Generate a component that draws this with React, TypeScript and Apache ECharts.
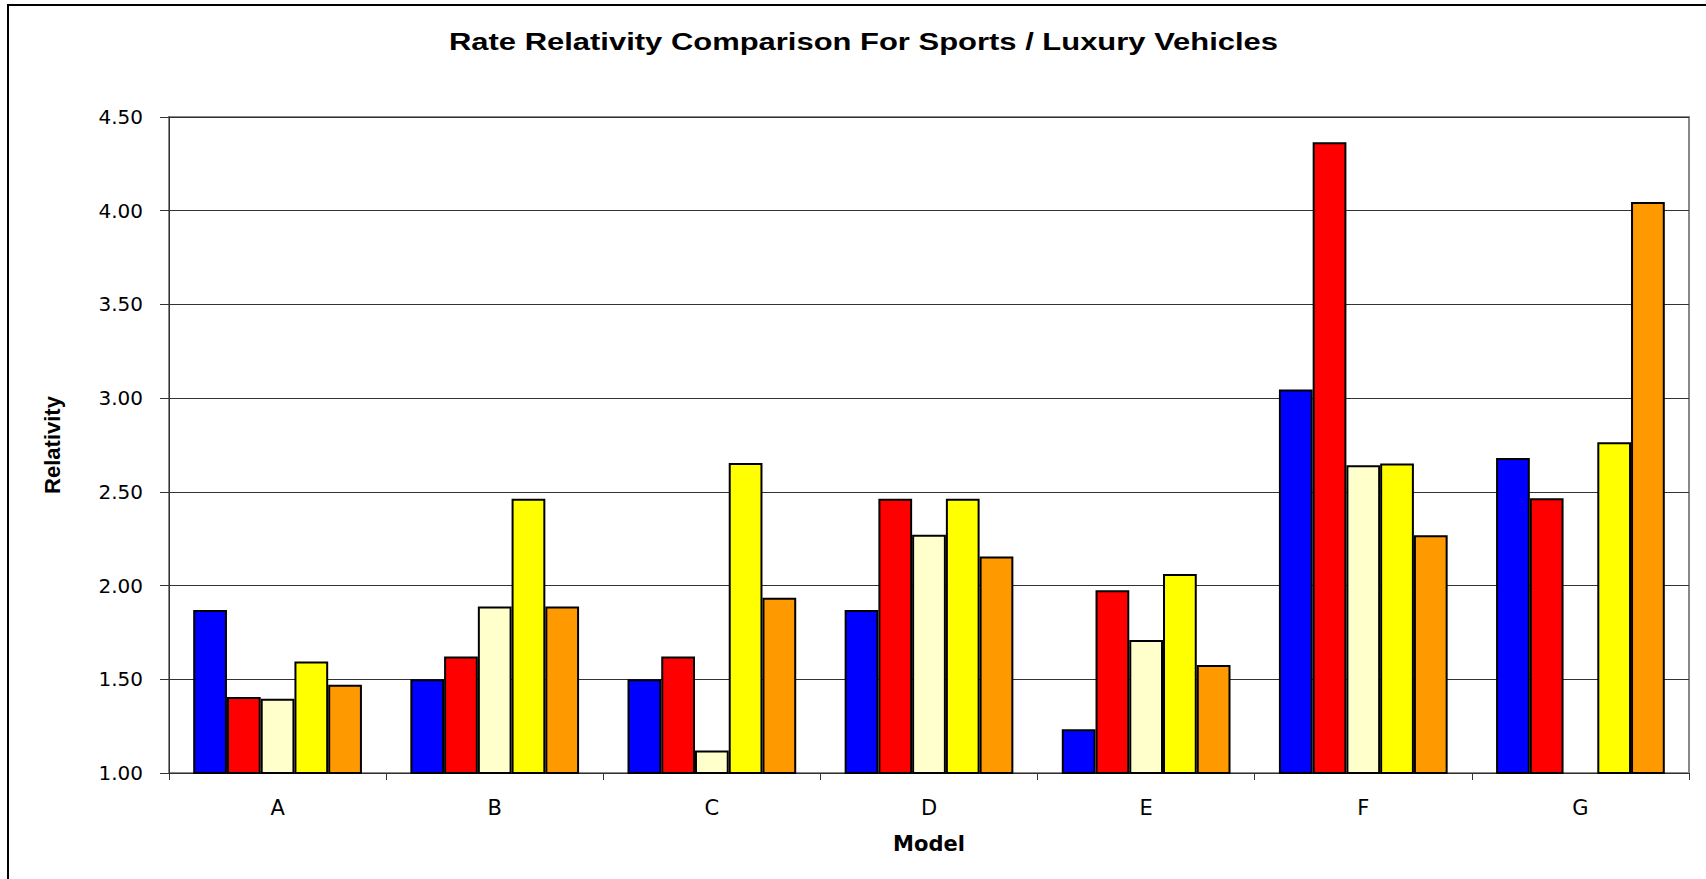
import React, { useEffect, useRef } from "react";
import * as echarts from "echarts";

const categories = ["A", "B", "C", "D", "E", "F", "G"];
const series1 = [1.869, 1.5, 1.5, 1.869, 1.234, 3.046, 2.68];
const series2 = [1.405, 1.622, 1.622, 2.463, 1.975, 4.365, 2.466];
const series3 = [1.396, 1.888, 1.12, 2.271, 1.709, 2.642, null];
const series4 = [1.595, 2.463, 2.654, 2.463, 2.062, 2.651, 2.765];
const series5 = [1.471, 1.888, 1.935, 2.155, 1.576, 2.269, 4.047];
const seriesNames = ["Series 1", "Series 2", "Series 3", "Series 4", "Series 5"];
const seriesColors = ["#0000FF", "#FF0000", "#FFFFCC", "#FFFF00", "#FF9900"];
const yTicks = { min: 1, max: 4.5, interval: 0.5 };
const titleText = "Rate Relativity Comparison For Sports / Luxury Vehicles";

export default function App() {
  const ref = useRef<HTMLDivElement>(null);
  useEffect(() => {
    if (!ref.current) return;
    const chart = echarts.init(ref.current, null, { renderer: "svg" });
    const data = [series1, series2, series3, series4, series5];
    chart.setOption({
      animation: false,
      backgroundColor: "#fff",
      grid: {
        left: 169,
        top: 117,
        width: 1520,
        height: 656,
        show: true,
        borderColor: "#888",
        borderWidth: 2,
        backgroundColor: "transparent",
      },
      graphic: [
        {
          type: "rect",
          silent: true,
          shape: { x: 8, y: 5, width: 1720, height: 900 },
          style: { fill: "none", stroke: "#000", lineWidth: 2 },
        },
        {
          type: "text",
          x: 863.5,
          y: 42,
          scaleX: 1.346,
          silent: true,
          style: {
            text: titleText,
            fontFamily: "Liberation Sans",
            fontWeight: "bold",
            fontSize: 23,
            fill: "#000",
            align: "center",
            verticalAlign: "middle",
            textAlign: "center",
            textVerticalAlign: "middle",
          },
        },
      ],
      xAxis: {
        type: "category",
        data: categories,
        axisLine: { show: true, lineStyle: { color: "#333", width: 1 } },
        axisTick: { show: true, length: 7, alignWithLabel: false, lineStyle: { color: "#333" } },
        axisLabel: { fontFamily: "DejaVu Sans", fontSize: 21, color: "#000", margin: 24 },
        splitLine: { show: false },
        name: "Model",
        nameLocation: "middle",
        nameGap: 60,
        nameTextStyle: { fontFamily: "DejaVu Sans", fontWeight: "bold", fontSize: 21, color: "#000" },
      },
      yAxis: {
        type: "value",
        min: yTicks.min,
        max: yTicks.max,
        interval: yTicks.interval,
        axisLine: { show: true, lineStyle: { color: "#333", width: 1 } },
        axisTick: { show: true, length: 9, lineStyle: { color: "#333" } },
        axisLabel: {
          formatter: (v: number) => v.toFixed(2),
          fontFamily: "DejaVu Sans",
          fontSize: 20,
          color: "#000",
          margin: 26,
        },
        splitLine: { show: true, lineStyle: { color: "#333", width: 1 } },
        name: "Relativity",
        nameLocation: "middle",
        nameRotate: 90,
        nameGap: 106,
        nameTextStyle: { fontFamily: "Liberation Sans", fontWeight: "bold", fontSize: 22, color: "#000" },
      },
      series: data.map((d, i) => ({
        type: "bar",
        name: seriesNames[i],
        data: d,
        barGap: "0%",
        barCategoryGap: "22.3%",
        itemStyle: { color: seriesColors[i], borderColor: "#000", borderWidth: 2 },
      })),
    });
    return () => chart.dispose();
  }, []);
  return (
    <div
      ref={ref}
      style={{ position: "fixed", left: 0, top: 0, width: 1706, height: 879, background: "#fff" }}
    />
  );
}
